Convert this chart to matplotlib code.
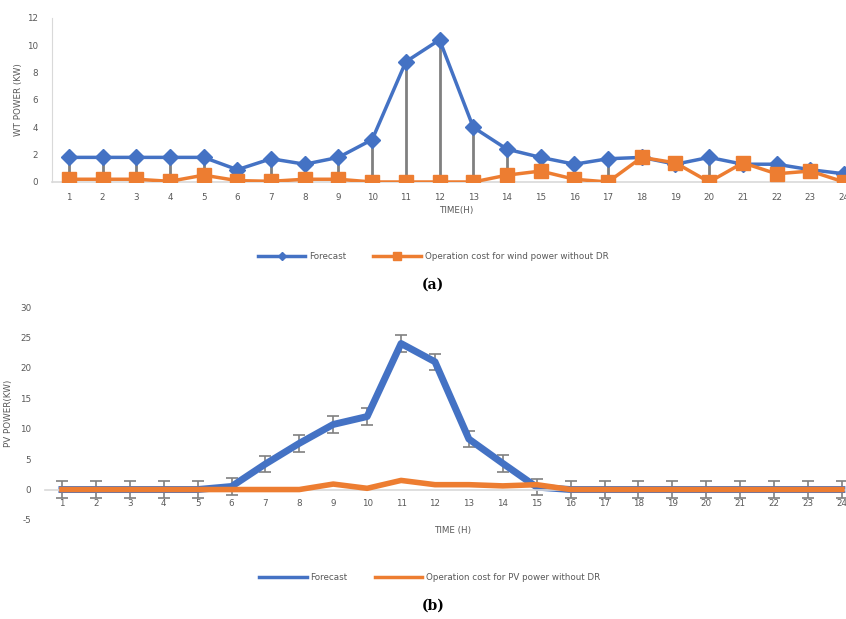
import matplotlib.pyplot as plt
from matplotlib.lines import Line2D
import numpy as np

plt.rcParams['axes.unicode_minus'] = False

# data
hours = list(range(1, 25))
wt_forecast = [1.8, 1.8, 1.8, 1.8, 1.8, 0.9, 1.7, 1.3, 1.8, 3.1, 8.8, 10.4,
               4.0, 2.4, 1.8, 1.3, 1.7, 1.8, 1.3, 1.8, 1.3, 1.3, 0.9, 0.6]
wt_cost = [0.2, 0.2, 0.2, 0.05, 0.5, 0.1, 0.05, 0.2, 0.2, 0.0, 0.0, 0.0,
           0.0, 0.5, 0.8, 0.2, 0.0, 1.8, 1.4, 0.0, 1.4, 0.6, 0.8, 0.0]
pv_forecast = [0, 0, 0, 0, 0, 0.5, 4.2, 7.6, 10.7, 12.0, 24.0, 21.0,
               8.3, 4.3, 0.4, 0, 0, 0, 0, 0, 0, 0, 0, 0]
pv_cost = [0, 0, 0, 0, 0, 0, 0, 0, 0.9, 0.2, 1.5, 0.8,
           0.8, 0.6, 0.8, 0, 0, 0, 0, 0, 0, 0, 0, 0]
pv_err = 1.35

blue = '#4472C4'
orange = '#ED7D31'
txt = '#595959'
axc = '#D9D9D9'
fs = 6.3

fig = plt.figure(figsize=(8.46, 6.19), dpi=100)

# ---- (a) wind ----
ax1 = fig.add_axes([0.0615, 0.706, 0.956, 0.265])
ax1.vlines(hours, np.minimum(wt_forecast, wt_cost), np.maximum(wt_forecast, wt_cost),
           color='#808080', lw=2, zorder=1)
ax1.plot(hours, wt_forecast, color=blue, lw=2.5, marker='D', ms=8, zorder=2,
         label='Forecast')
ax1.plot(hours, wt_cost, color=orange, lw=2.5, marker='s', ms=10.5, zorder=3,
         label='Operation cost for wind power without DR')
ax1.set_xlim(0.5, 24.5)
ax1.set_ylim(0, 12)
ax1.set_yticks(range(0, 13, 2))
ax1.set_xticks(hours)
for s in ['top', 'right']:
    ax1.spines[s].set_visible(False)
ax1.spines['left'].set_color(axc)
ax1.spines['bottom'].set_color(axc)
ax1.spines['bottom'].set_linewidth(1.2)
ax1.tick_params(length=0, labelsize=fs, labelcolor=txt, pad=8)
ax1.tick_params(axis='y', pad=10)
ax1.set_xlabel('TIME(H)', fontsize=fs, color=txt, labelpad=3)
ax1.set_ylabel('WT POWER (KW)', fontsize=fs, color=txt, labelpad=3)
fig.legend(*ax1.get_legend_handles_labels(), loc='center', bbox_to_anchor=(0.512, 0.585),
           ncol=2, frameon=False, fontsize=fs, labelcolor=txt, handlelength=5.4,
           handletextpad=0.45, columnspacing=3.1, markerscale=0.55)
fig.text(0.512, 0.54, '(a)', ha='center', va='center', fontsize=10,
         fontweight='bold', family='DejaVu Serif')

# ---- (b) PV ----
ax2 = fig.add_axes([0.0532, 0.160, 0.962, 0.344])
ax2.errorbar(hours, pv_forecast, yerr=pv_err, color=blue, lw=5, ecolor='#808080',
             elinewidth=1.2, capsize=4, capthick=1.2, zorder=2)
ax2.plot(hours, pv_cost, color=orange, lw=4, zorder=3)
ax2.set_xlim(0.5, 24.5)
ax2.set_ylim(-5, 30)
ax2.set_yticks(range(-5, 31, 5))
ax2.set_xticks(hours)
for s in ['top', 'right', 'left']:
    ax2.spines[s].set_visible(False)
ax2.spines['bottom'].set_position(('data', 0))
ax2.spines['bottom'].set_color(axc)
ax2.spines['bottom'].set_linewidth(1.2)
ax2.tick_params(length=0, labelsize=fs, labelcolor=txt)
ax2.tick_params(axis='x', pad=7)
ax2.tick_params(axis='y', pad=10)
ax2.set_ylabel('PV POWER(KW)', fontsize=fs, color=txt, labelpad=5)
fig.text(0.535, 0.143, 'TIME (H)', ha='center', va='center', fontsize=fs, color=txt)
handles = [Line2D([], [], color=blue, lw=2.5), Line2D([], [], color=orange, lw=2.5)]
labels = ['Forecast', 'Operation cost for PV power without DR']
fig.legend(handles, labels, loc='center', bbox_to_anchor=(0.508, 0.067), ncol=2,
           frameon=False, fontsize=fs, labelcolor=txt, handlelength=5.4,
           handletextpad=0.45, columnspacing=3.1)
fig.text(0.512, 0.021, '(b)', ha='center', va='center', fontsize=10,
         fontweight='bold', family='DejaVu Serif')

fig.savefig('out.png', dpi=100)
